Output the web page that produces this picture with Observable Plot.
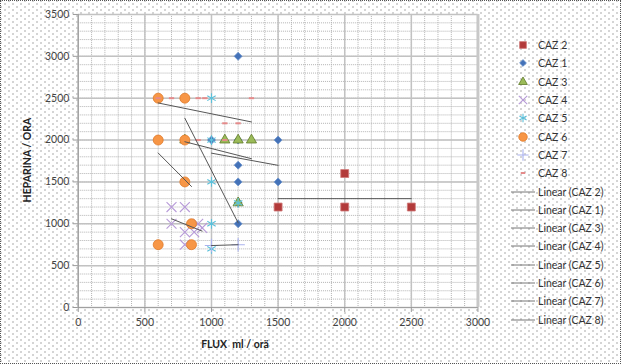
<!DOCTYPE html>
<html><head><meta charset="utf-8">
<script src="https://cdn.jsdelivr.net/npm/d3@7"></script>
<script src="https://cdn.jsdelivr.net/npm/@observablehq/plot@0.6"></script>
<style>
html,body{margin:0;padding:0;background:#fff;}
#chart{position:relative;width:621px;height:364px;box-sizing:border-box;border:1px dotted #555;
 background-color:#fff;
 background-image:radial-gradient(circle,#bdbdbd 0.6px,transparent 0.9px),radial-gradient(circle,#bdbdbd 0.6px,transparent 0.9px);
 background-size:8px 6px,8px 6px;background-position:0 0,4px 3px;overflow:hidden;font-family:Lato,"Open Sans",sans-serif;}
#chart svg{position:absolute;left:0;top:0;}
#legend{position:absolute;left:508px;top:35px;font-size:10.5px;color:#333;}
.li{height:18.3px;display:flex;align-items:center;white-space:nowrap;}
.li svg{position:static !important;margin-right:3px;}
.ytitle{position:absolute;left:26px;top:159px;transform:translate(-50%,-50%) rotate(-90deg);font-weight:bold;font-size:10.5px;color:#222;white-space:pre;}
.xtitle{position:absolute;left:234px;top:343px;transform:translate(-50%,-50%);font-weight:bold;font-size:10.5px;color:#222;white-space:pre;}
</style></head>
<body>
<div id="chart"></div>
<script>
// ---- data (FLUX ml/ora, HEPARINA/ora) ----
const seriesNames = ["CAZ 2","CAZ 1","CAZ 3","CAZ 4","CAZ 5","CAZ 6","CAZ 7","CAZ 8"];
const caz2 = [[1500,1200],[2000,1200],[2000,1600],[2500,1200]];
const caz1 = [[1000,2000],[1200,3000],[1200,2000],[1200,1700],[1200,1500],[1200,1250],[1200,1000],[1500,2000],[1500,1500]];
const caz3 = [[800,2000],[1100,2000],[1200,2000],[1300,2000],[1200,1250]];
const caz4 = [[700,1200],[800,1200],[700,1000],[900,1000],[800,900],[870,900],[930,950],[800,750]];
const caz5 = [[800,2500],[1000,2500],[1000,2000],[1000,1500],[1000,1000],[1000,700],[1200,1250]];
const caz6 = [[600,2500],[800,2500],[600,2000],[800,2000],[800,1500],[850,1000],[600,750],[850,750]];
const caz7 = [[1000,740],[1200,750]];
const caz8 = [[600,2500],[700,2500],[900,2500],[950,2500],[1300,2500],[1100,2200],[1200,2200],[900,2000],[1100,2000]];
const xTicks = [0,500,1000,1500,2000,2500,3000];
const yTicks = [0,500,1000,1500,2000,2500,3000,3500];
const xTitle = "FLUX  ml / orä";
const yTitle = "HEPARINA / ORA";

const seriesData = [caz2,caz1,caz3,caz4,caz5,caz6,caz7,caz8];
const dash = {draw(ctx,size){const w=Math.sqrt(size)*0.75;ctx.rect(-w/2,-1,w,2);}};
const styles = [
  {symbol:"square",r:4.5,fill:"#b23a3a",stroke:"#d07a78",strokeWidth:0.8},
  {symbol:"diamond2",r:3.6,fill:"#4472b8",stroke:"#6a92cc",strokeWidth:0.8},
  {symbol:"triangle",r:3.8,fill:"#9bbb59",stroke:"#5f7a2a",strokeWidth:0.8},
  {symbol:"times",r:4.6,fill:"none",stroke:"#b79ad8",strokeWidth:1.1},
  {symbol:"asterisk",r:4.6,fill:"none",stroke:"#5bc0da",strokeWidth:1.1},
  {symbol:"circle",r:5,fill:"#f79646",stroke:"#e07a2a",strokeWidth:0.8},
  {symbol:"plus",r:4.4,fill:"none",stroke:"#aab2ee",strokeWidth:1.1},
  {symbol:dash,r:4,fill:"#e58a8a",stroke:"none",strokeWidth:0}
];
const table = seriesData.flatMap((arr,i)=>arr.map(([x,y])=>({x,y,series:seriesNames[i]})));

const minorX = d3.range(0,3001,100), minorY = d3.range(0,3501,100);

const dotMarks = seriesNames.map((name,i)=>Plot.dot(table.filter(d=>d.series===name),{x:"x",y:"y",...styles[i]}));

const plot = Plot.plot({
  width:621,height:364,marginLeft:77,marginRight:143,marginTop:13,marginBottom:57,
  x:{domain:[0,3000]}, y:{domain:[0,3500]},
  style:{background:"transparent",fontFamily:"Lato, 'Open Sans', sans-serif",fontSize:"10.5px",color:"#444",overflow:"visible"},
  marks:[
    Plot.frame({fill:"white",stroke:null}),
    Plot.gridX({ticks:minorX,stroke:"#b3b3b3",strokeOpacity:1,strokeDasharray:"1,1"}),
    Plot.gridY({ticks:minorY,stroke:"#b3b3b3",strokeOpacity:1,strokeDasharray:"1,1"}),
    Plot.gridX({ticks:xTicks,stroke:"#c2c2c2",strokeOpacity:1,strokeWidth:1.5}),
    Plot.gridY({ticks:yTicks,stroke:"#c2c2c2",strokeOpacity:1,strokeWidth:1.5}),
    Plot.ruleX([3000],{stroke:"#c8c8c8",strokeWidth:3}),
    Plot.ruleX([0],{stroke:"#a0a0a0",strokeWidth:1.2}),
    Plot.ruleY([0],{stroke:"#a0a0a0",strokeWidth:1.2}),
    Plot.axisX({ticks:xTicks,tickFormat:d=>String(d),tickSize:5,tickPadding:6,stroke:"#999",fill:"#444",label:null}),
    Plot.axisY({ticks:yTicks,tickFormat:d=>String(d),tickSize:5,tickPadding:4,stroke:"#999",fill:"#444",label:null}),
    ...dotMarks,
    Plot.linearRegressionY(table,{x:"x",y:"y",z:"series",stroke:"#555",strokeWidth:1,strokeOpacity:1,ci:0})
  ]
});
const chart = document.getElementById("chart");
chart.appendChild(plot);

// titles
const yt=document.createElement("div");yt.className="ytitle";yt.textContent=yTitle;chart.appendChild(yt);
const xt=document.createElement("div");xt.className="xtitle";xt.textContent=xTitle;chart.appendChild(xt);

// legend
const leg=document.createElement("div");leg.id="legend";chart.appendChild(leg);
seriesNames.forEach((name,i)=>{
  const row=document.createElement("div");row.className="li";
  const s=d3.create("svg").attr("width",26).attr("height",12);
  const st=styles[i];
  const sym = typeof st.symbol==="string" ? ({square:d3.symbolSquare,diamond2:d3.symbolDiamond2,triangle:d3.symbolTriangle,times:d3.symbolTimes,asterisk:d3.symbolAsterisk,circle:d3.symbolCircle,plus:d3.symbolPlus})[st.symbol] : st.symbol;
  const r = st.r*0.85;
  s.append("path").attr("transform","translate(14,6)").attr("d",d3.symbol(sym,Math.PI*r*r)())
    .attr("fill",st.fill).attr("stroke",st.stroke).attr("stroke-width",st.strokeWidth);
  row.appendChild(s.node());
  const t=document.createElement("span");t.textContent=name;row.appendChild(t);
  leg.appendChild(row);
});
seriesNames.forEach((name)=>{
  const row=document.createElement("div");row.className="li";
  const s=d3.create("svg").attr("width",26).attr("height",12);
  s.append("line").attr("x1",2).attr("x2",26).attr("y1",6).attr("y2",6).attr("stroke","#777").attr("stroke-width",1);
  row.appendChild(s.node());
  const t=document.createElement("span");t.textContent="Linear ("+name+")";row.appendChild(t);
  leg.appendChild(row);
});
</script>
</body></html>
